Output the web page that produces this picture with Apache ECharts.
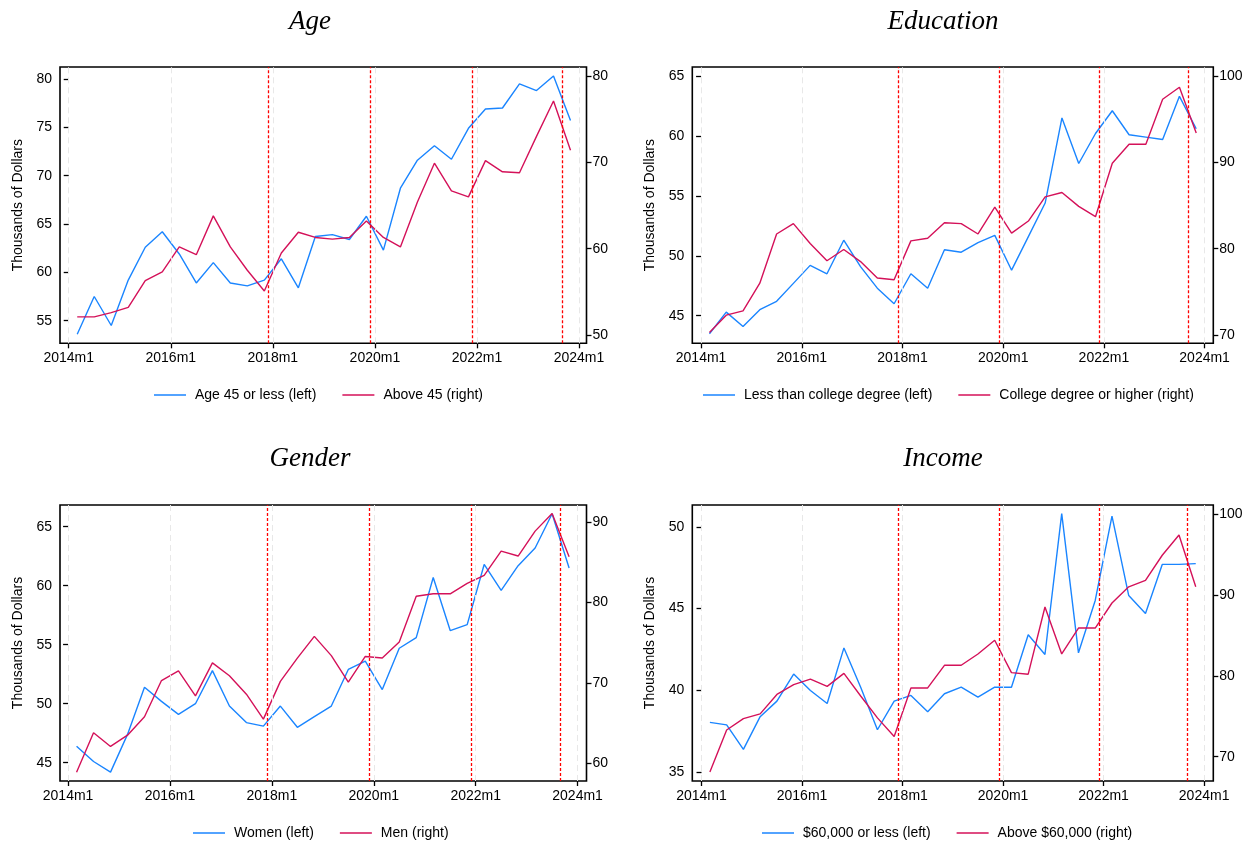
<!DOCTYPE html>
<html>
<head>
<meta charset="utf-8">
<script src="https://cdn.jsdelivr.net/npm/echarts@6/dist/echarts.min.js"></script>
<style>html,body{margin:0;padding:0;background:#fff;}#c{width:1256px;height:844px;}</style>
</head>
<body>
<div id="c"></div>
<script>
// months since 2014m1 (2014m3, 2014m7, ... 2023m11)
const months = [2,6,10,14,18,22,26,30,34,38,42,46,50,54,58,62,66,70,74,78,82,86,90,94,98,102,106,110,114,118];
const xTickValues = [0,24,48,72,96,120];
const redLines = [47,71,95,116];

const ageYoung = [53.6,57.5,54.5,59.2,62.6,64.2,61.9,58.9,61.0,58.9,58.6,59.2,61.4,58.4,63.7,63.9,63.4,65.8,62.3,68.7,71.6,73.1,71.7,74.9,76.9,77.0,79.5,78.8,80.3,75.7];
const ageOld = [52.1,52.1,52.6,53.2,56.3,57.3,60.2,59.3,63.8,60.2,57.5,55.1,59.5,61.9,61.3,61.1,61.3,63.2,61.3,60.2,65.4,69.9,66.7,66.0,70.2,68.9,68.8,73.0,77.1,71.4];

const eduLow = [43.5,45.3,44.1,45.5,46.2,47.7,49.2,48.5,51.3,49.1,47.3,46.0,48.5,47.3,50.5,50.3,51.1,51.7,48.8,51.6,54.4,61.5,57.7,60.2,62.1,60.1,59.9,59.7,63.3,60.6];
const eduHigh = [70.3,72.3,72.8,76.0,81.7,82.9,80.6,78.6,79.9,78.5,76.6,76.4,80.9,81.2,83.0,82.9,81.7,84.8,81.8,83.2,86.0,86.5,84.9,83.7,89.9,92.1,92.1,97.3,98.7,93.4];

const women = [46.4,45.1,44.2,47.4,51.4,50.2,49.1,50.0,52.8,49.8,48.4,48.1,49.8,48.0,48.9,49.8,52.9,53.6,51.2,54.7,55.6,60.7,56.2,56.7,61.8,59.6,61.7,63.2,66.1,61.5];
const men = [58.9,63.8,62.1,63.5,65.8,70.3,71.5,68.4,72.5,70.9,68.6,65.5,70.2,73.1,75.8,73.4,70.1,73.3,73.1,75.1,80.8,81.1,81.1,82.4,83.4,86.4,85.8,88.9,91.1,85.7];

const incLow = [38.05,37.9,36.4,38.4,39.35,41.0,40.0,39.2,42.6,40.2,37.6,39.35,39.7,38.7,39.8,40.2,39.6,40.2,40.2,43.4,42.2,50.8,42.3,45.5,50.65,45.8,44.7,47.7,47.7,47.75];
const incHigh = [68.1,73.3,74.7,75.3,77.7,78.9,79.6,78.7,80.3,77.5,74.8,72.5,78.5,78.5,81.3,81.3,82.7,84.4,80.4,80.2,88.5,82.7,85.9,85.9,89.0,91.0,91.8,94.9,97.4,91.0];

const titles = ['Age','Education','Gender','Income'];
const leftNames = ['Age 45 or less (left)','Less than college degree (left)','Women (left)','$60,000 or less (left)'];
const rightNames = ['Above 45 (right)','College degree or higher (right)','Men (right)','Above $60,000 (right)'];
const leftTicks = [[55,60,65,70,75,80],[45,50,55,60,65],[45,50,55,60,65],[35,40,45,50]];
const rightTicks = [[50,60,70,80],[70,80,90,100],[60,70,80,90],[70,80,90,100]];

const leftSeries = [ageYoung, eduLow, women, incLow];
const rightSeries = [ageOld, eduHigh, men, incHigh];

// layout (pixels)
const grids = [
  {left:60, top:67, width:526.5, height:276.3},
  {left:692.3, top:67, width:521, height:276.3},
  {left:60, top:505, width:526.5, height:276},
  {left:692.3, top:505, width:521, height:276}
];
const xRange = [[-2.05,121.76],[-2.09,122.07],[-1.9,122.1],[-2.2,122.19]];
const leftRange = [[52.66,81.24],[42.70,65.75],[43.45,66.84],[34.47,51.33]];
const rightRange = [[49.04,81.04],[69.04,101.04],[57.8,92.15],[67.0,101.11]];
const titlePos = [[310,8],[943,8],[310,445],[943,445]];
const legendPos = [[154,388],[703,388],[193,826],[762,826]];

const BLUE = '#1a85ff', RED = '#d41159';
const FONT = '"Liberation Sans", Arial, sans-serif';

const option = {
  animation: false,
  backgroundColor: '#fff',
  title: titles.map((t,i)=>({
    text: t, left: titlePos[i][0], top: titlePos[i][1], textAlign: 'center', padding: 0,
    textStyle: {fontFamily: '"Liberation Serif", "DejaVu Serif", serif', fontStyle: 'italic', fontWeight: 'normal', fontSize: 27, color: '#000'}
  })),
  legend: titles.map((t,i)=>({
    data: [
      {name: leftNames[i], icon: 'rect', itemStyle: {color: BLUE}},
      {name: rightNames[i], icon: 'rect', itemStyle: {color: RED}}
    ],
    left: legendPos[i][0], top: legendPos[i][1], padding: 0,
    itemWidth: 32, itemHeight: 1.5, itemGap: 26,
    selectedMode: false,
    textStyle: {fontFamily: FONT, fontSize: 14, color: '#000', padding: [0,0,0,4]}
  })),
  grid: grids.map(g=>Object.assign({show:true, borderColor:'#000', borderWidth:1.6, backgroundColor:'transparent', containLabel:false}, g)),
  xAxis: grids.map((g,i)=>({
    type: 'value', gridIndex: i, min: xRange[i][0], max: xRange[i][1],
    axisLine: {show: false},
    splitLine: {show: false},
    axisTick: {show: true, length: 5, lineStyle: {color:'#000', width: 1.3}, customValues: xTickValues},
    axisLabel: {customValues: xTickValues, margin: 8, fontFamily: FONT, fontSize: 14, color: '#000',
      formatter: v => (2014 + Math.round(v/12)) + 'm1'}
  })),
  yAxis: [].concat(...grids.map((g,i)=>[
    {
      type: 'value', gridIndex: i, position: 'left', min: leftRange[i][0], max: leftRange[i][1],
      name: 'Thousands of Dollars', nameLocation: 'middle', nameGap: 35,
      nameTextStyle: {fontFamily: FONT, fontSize: 14, color: '#000'},
      axisLine: {show: false}, splitLine: {show: false},
      axisTick: {show: true, length: 5, lineStyle: {color:'#000', width: 1.3}, customValues: leftTicks[i]},
      axisLabel: {customValues: leftTicks[i], margin: 8, fontFamily: FONT, fontSize: 14, color: '#000'}
    },
    {
      type: 'value', gridIndex: i, position: 'right', min: rightRange[i][0], max: rightRange[i][1],
      axisLine: {show: false}, splitLine: {show: false},
      axisTick: {show: true, length: 5, lineStyle: {color:'#000', width: 1.3}, customValues: rightTicks[i]},
      axisLabel: {customValues: rightTicks[i], margin: 6, fontFamily: FONT, fontSize: 14, color: '#000'}
    }
  ])),
  series: [].concat(...grids.map((g,i)=>[
    {
      type: 'line', name: leftNames[i], xAxisIndex: i, yAxisIndex: 2*i,
      data: months.map((m,k)=>[m, leftSeries[i][k]]),
      symbol: 'none', lineStyle: {color: BLUE, width: 1.4}, itemStyle: {color: BLUE},
      z: 3,
      markLine: {
        silent: true, symbol: 'none', label: {show: false}, animation: false,
        data: xTickValues.map(v=>({xAxis: v, lineStyle: {color:'#e8e8e8', width:1, type:[6,4]}}))
          .concat(redLines.map(v=>({xAxis: v, lineStyle: {color:'#ff0000', width:1.3, type:[3,2]}})))
      }
    },
    {
      type: 'line', name: rightNames[i], xAxisIndex: i, yAxisIndex: 2*i+1,
      data: months.map((m,k)=>[m, rightSeries[i][k]]),
      symbol: 'none', lineStyle: {color: RED, width: 1.4}, itemStyle: {color: RED},
      z: 3
    }
  ]))
};

const chart = echarts.init(document.getElementById('c'), null, {renderer: 'canvas'});
chart.setOption(option);
</script>
</body>
</html>
